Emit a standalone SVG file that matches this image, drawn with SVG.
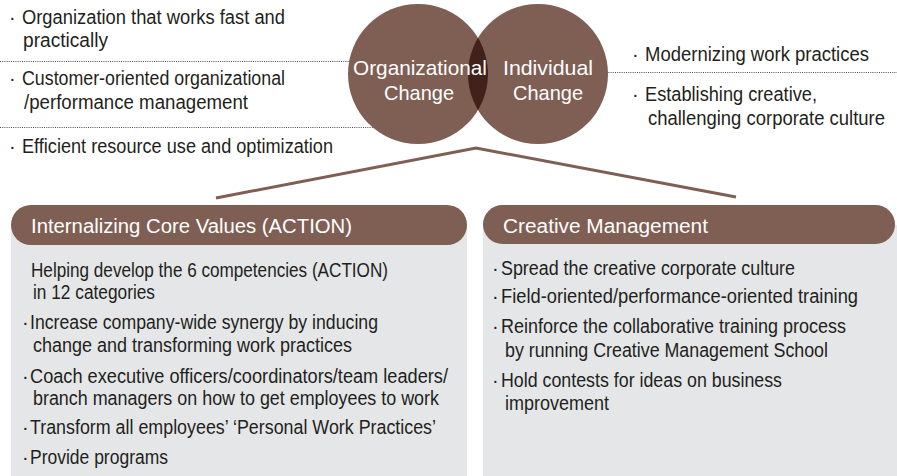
<svg xmlns="http://www.w3.org/2000/svg" width="897" height="476" viewBox="0 0 897 476">
<style>
text{font-family:"Liberation Sans",Arial,sans-serif;font-size:20px;fill:#231f20}
.w{fill:#ffffff}
.dot{stroke:#4a4a4a;stroke-width:1;stroke-dasharray:1 1.2;fill:none}
.brown{fill:#7f5e54}
.body{fill:#e5e6e8}
</style>
<defs>
<clipPath id="clipL"><circle cx="418" cy="74" r="70"/></clipPath>
</defs>
<rect width="897" height="476" fill="#ffffff"/>
<g id="connectors">
<line class="dot" x1="0" y1="61.5" x2="400" y2="61.5"/>
<line class="dot" x1="0" y1="127.5" x2="400" y2="127.5"/>
<line class="dot" x1="560" y1="72.5" x2="897" y2="72.5"/>
<polyline points="216,198 476,148 736,197" fill="none" stroke="#7f5e54" stroke-width="3" stroke-linejoin="miter"/>
</g>
<g id="org-items">
<text><tspan x="9" y="23.5">·</tspan><tspan x="22" textLength="263" lengthAdjust="spacingAndGlyphs">Organization that works fast and</tspan></text>
<text x="23" y="47" textLength="85" lengthAdjust="spacingAndGlyphs">practically</text>
<text><tspan x="9" y="84.5">·</tspan><tspan x="22" textLength="263" lengthAdjust="spacingAndGlyphs">Customer-oriented organizational</tspan></text>
<text x="24" y="108.5" textLength="224" lengthAdjust="spacingAndGlyphs">/performance management</text>
<text><tspan x="9" y="152.5">·</tspan><tspan x="22" textLength="311" lengthAdjust="spacingAndGlyphs">Efficient resource use and optimization</tspan></text>
</g>
<g id="ind-items">
<text><tspan x="632" y="60.5">·</tspan><tspan x="645" textLength="224" lengthAdjust="spacingAndGlyphs">Modernizing work practices</tspan></text>
<text><tspan x="632" y="101">·</tspan><tspan x="645" textLength="172" lengthAdjust="spacingAndGlyphs">Establishing creative,</tspan></text>
<text x="648" y="125" textLength="237" lengthAdjust="spacingAndGlyphs">challenging corporate culture</text>
</g>
<g id="org-change">
<circle class="brown" cx="418" cy="74" r="70"/>
</g>
<g id="ind-change">
<circle class="brown" cx="538" cy="74" r="70"/>
<circle cx="538" cy="74" r="70" fill="#42211b" clip-path="url(#clipL)"/>
<text class="w" x="353" y="75" textLength="134" lengthAdjust="spacingAndGlyphs" style="font-size:21px">Organizational</text>
<text class="w" x="384" y="100" textLength="70" lengthAdjust="spacingAndGlyphs" style="font-size:21px">Change</text>
<text class="w" x="503" y="75" textLength="90" lengthAdjust="spacingAndGlyphs" style="font-size:21px">Individual</text>
<text class="w" x="513" y="100" textLength="70" lengthAdjust="spacingAndGlyphs" style="font-size:21px">Change</text>
</g>
<g id="core-values">
<rect class="body" x="11" y="225" width="456" height="251"/>
<rect class="brown" x="11" y="205" width="456" height="40" rx="20"/>
<text class="w" x="31" y="233" textLength="321" lengthAdjust="spacingAndGlyphs">Internalizing Core Values (ACTION)</text>
<text x="31" y="277" textLength="357" lengthAdjust="spacingAndGlyphs">Helping develop the 6 competencies (ACTION)</text>
<text x="33" y="299" textLength="122" lengthAdjust="spacingAndGlyphs">in 12 categories</text>
<text><tspan x="22" y="329">·</tspan><tspan x="30" textLength="348" lengthAdjust="spacingAndGlyphs">Increase company-wide synergy by inducing</tspan></text>
<text x="33" y="352" textLength="319" lengthAdjust="spacingAndGlyphs">change and transforming work practices</text>
<text><tspan x="22" y="383">·</tspan><tspan x="30" textLength="418" lengthAdjust="spacingAndGlyphs">Coach executive officers/coordinators/team leaders/</tspan></text>
<text x="33" y="405" textLength="406" lengthAdjust="spacingAndGlyphs">branch managers on how to get employees to work</text>
<text><tspan x="22" y="434">·</tspan><tspan x="30" textLength="406" lengthAdjust="spacingAndGlyphs">Transform all employees’ ‘Personal Work Practices’</tspan></text>
<text><tspan x="22" y="464">·</tspan><tspan x="30" textLength="138" lengthAdjust="spacingAndGlyphs">Provide programs</tspan></text>
</g>
<g id="creative-management">
<rect class="body" x="483" y="225" width="414" height="251"/>
<rect class="brown" x="483" y="205" width="412" height="39" rx="19.5"/>
<text class="w" x="503" y="233" textLength="205" lengthAdjust="spacingAndGlyphs">Creative Management</text>
<text><tspan x="492" y="275">·</tspan><tspan x="501" textLength="294" lengthAdjust="spacingAndGlyphs">Spread the creative corporate culture</tspan></text>
<text><tspan x="492" y="303">·</tspan><tspan x="501" textLength="357" lengthAdjust="spacingAndGlyphs">Field-oriented/performance-oriented training</tspan></text>
<text><tspan x="492" y="333">·</tspan><tspan x="501" textLength="345" lengthAdjust="spacingAndGlyphs">Reinforce the collaborative training process</tspan></text>
<text x="505" y="357" textLength="323" lengthAdjust="spacingAndGlyphs">by running Creative Management School</text>
<text><tspan x="492" y="387">·</tspan><tspan x="501" textLength="281" lengthAdjust="spacingAndGlyphs">Hold contests for ideas on business</tspan></text>
<text x="505" y="410" textLength="104" lengthAdjust="spacingAndGlyphs">improvement</text>
</g>
</svg>
